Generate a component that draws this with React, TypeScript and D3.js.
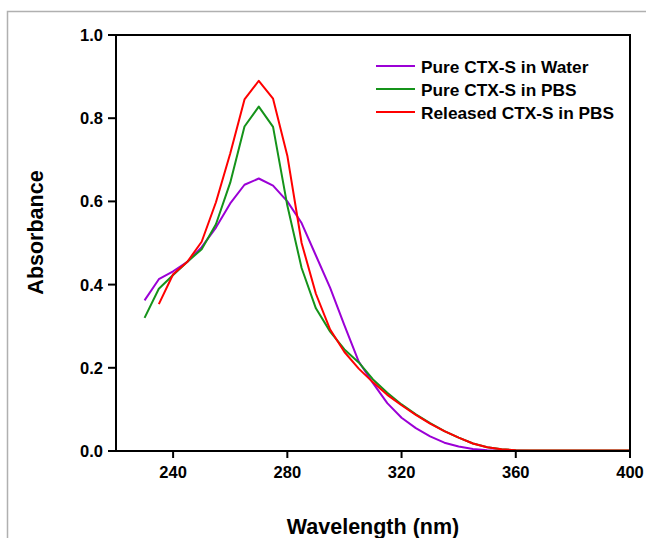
import React from "react";
import * as d3 from "d3";

const wavelengths = [230,235,240,245,250,255,260,265,270,275,280,285,290,295,300,305,310,315,320,325,330,335,340,345,350,355,360,365,370,375,380,385,390,395,400];
const water = [0.362,0.413,0.432,0.455,0.49,0.537,0.595,0.64,0.655,0.638,0.60,0.548,0.47,0.392,0.302,0.215,0.163,0.115,0.08,0.055,0.035,0.02,0.011,0.005,0.002,0.001,0.0005,0,0,0,0,0,0,0,0];
const pbs = [0.32,0.39,0.423,0.455,0.485,0.545,0.645,0.78,0.828,0.779,0.59,0.44,0.343,0.287,0.244,0.213,0.172,0.14,0.112,0.088,0.067,0.048,0.032,0.018,0.009,0.004,0.002,0.001,0.001,0.001,0.001,0.001,0.001,0.001,0.001];
const released = [null,0.353,0.425,0.455,0.503,0.598,0.715,0.845,0.89,0.847,0.71,0.50,0.378,0.292,0.238,0.198,0.165,0.135,0.11,0.087,0.066,0.048,0.032,0.018,0.009,0.004,0.002,0.001,0.001,0.001,0.001,0.001,0.001,0.001,0.001];
const seriesNames = ["Pure CTX-S in Water","Pure CTX-S in PBS","Released CTX-S in PBS"];
const seriesColors = ["#9B00D6","#15931A","#FF0000"];
const xTicks = [240,280,320,360,400];
const yTicks = [0,0.2,0.4,0.6,0.8,1.0];

export default function App() {
  const W = 646, H = 538;
  const m = { left: 116, right: 630, top: 35, bottom: 451 };
  const x = d3.scaleLinear().domain([220, 400]).range([m.left, m.right]);
  const y = d3.scaleLinear().domain([0, 1]).range([m.bottom, m.top]);
  const allSeries = [water, pbs, released];
  const line = d3.line<[number, number | null]>()
    .defined(d => d[1] !== null)
    .x(d => x(d[0]))
    .y(d => y(d[1] as number));
  const font = "'Liberation Sans', Arial, sans-serif";
  return (
    <svg width={W} height={H} style={{ position: "absolute", left: 0, top: 0, background: "#fff" }}>
      <rect x={7.5} y={11.5} width={W} height={H} fill="none" stroke="#b0b0b0" strokeWidth={1.5} />
      {allSeries.map((s, i) => (
        <path key={i} d={line(wavelengths.map((w, j) => [w, s[j]]) as any) || ""} fill="none" stroke={seriesColors[i]} strokeWidth={2} strokeLinejoin="round" />
      ))}
      <rect x={m.left} y={m.top} width={m.right - m.left} height={m.bottom - m.top} fill="none" stroke="#000" strokeWidth={2} />
      {xTicks.map(t => (
        <g key={t}>
          <line x1={x(t)} x2={x(t)} y1={m.bottom} y2={m.bottom + 7} stroke="#000" strokeWidth={2} />
          <text x={x(t)} y={478} textAnchor="middle" fontFamily={font} fontWeight="bold" fontSize={16.5}>{t}</text>
        </g>
      ))}
      {yTicks.map(t => (
        <g key={t}>
          <line x1={m.left - 8} x2={m.left} y1={y(t)} y2={y(t)} stroke="#000" strokeWidth={2} />
          <text x={m.left - 13} y={y(t) + 6} textAnchor="end" fontFamily={font} fontWeight="bold" fontSize={16.5}>{t.toFixed(1)}</text>
        </g>
      ))}
      <text x={(m.left + m.right) / 2} y={534} textAnchor="middle" fontFamily={font} fontWeight="bold" fontSize={21.5}>Wavelength (nm)</text>
      <text transform="translate(43,232.5) rotate(-90)" textAnchor="middle" fontFamily={font} fontWeight="bold" fontSize={21.5}>Absorbance</text>
      {seriesNames.map((n, i) => (
        <g key={n}>
          <line x1={376} x2={415} y1={66 + i * 23} y2={66 + i * 23} stroke={seriesColors[i]} strokeWidth={2} />
          <text x={421} y={66 + i * 23 + 6.5} fontFamily={font} fontWeight="bold" fontSize={17.3}>{n}</text>
        </g>
      ))}
    </svg>
  );
}
